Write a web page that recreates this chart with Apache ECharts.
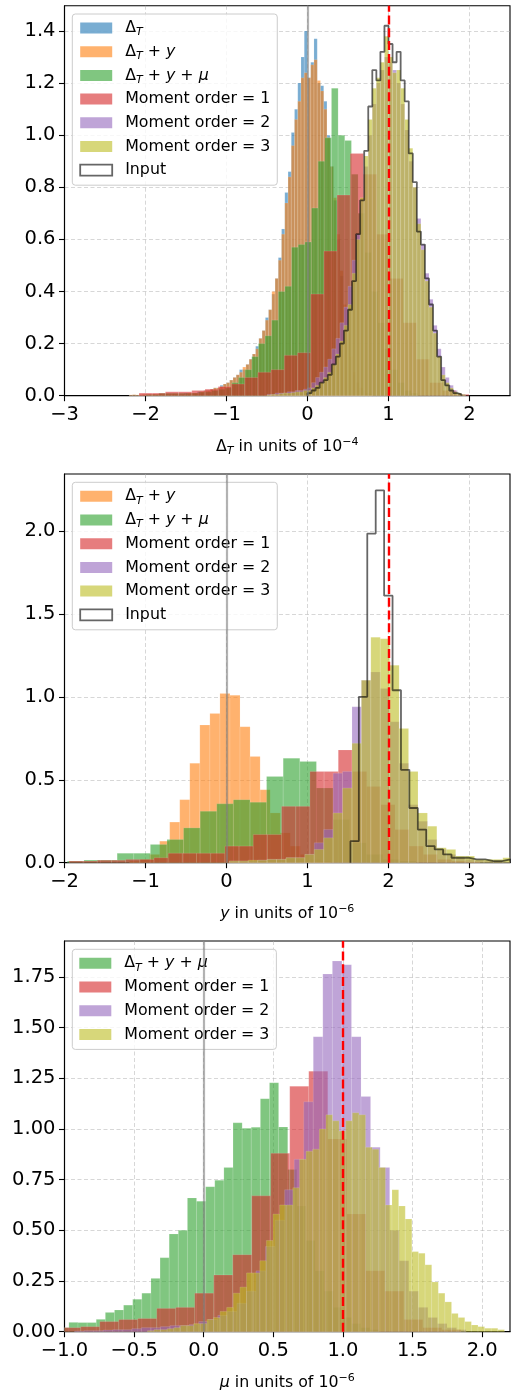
<!DOCTYPE html>
<html>
<head>
<meta charset="utf-8">
<script src="https://cdn.jsdelivr.net/npm/echarts@6/dist/echarts.min.js"></script>
<style>
  html, body { margin: 0; padding: 0; background: #fff; }
  #chart { width: 511px; height: 1393px; }
</style>
</head>
<body>
<div id="chart"></div>
<script>
// ---- panel 1: Delta_T (units of 1e-4) ----
var dtBlueStart = -2.2, dtBlueWidth = 0.04
var dtBlue = [0.002, 0.003, 0.002, 0.003, 0.004, 0.003, 0.004, 0.005, 0.004, 0.005, 0.004, 0.006, 0.005, 0.006, 0.005,
  0.005, 0.005, 0.01, 0.005, 0.01, 0.01, 0.015, 0.01, 0.02, 0.02, 0.025, 0.03, 0.03, 0.04, 0.045, 0.05, 0.06, 0.07, 0.08, 0.10,
  0.10, 0.12, 0.14, 0.16, 0.19, 0.22, 0.25, 0.30, 0.33, 0.39, 0.45, 0.53, 0.64, 0.78, 0.86, 1.01, 1.10, 1.20, 1.30, 1.40,
  1.22, 1.28, 1.37, 1.20, 1.19, 1.13, 1.00, 0.88, 0.75, 0.60, 0.46, 0.33, 0.22, 0.14, 0.08, 0.05, 0.03, 0.02, 0.01, 0.005]
var dtOrangeStart = -2.2, dtOrangeWidth = 0.04
var dtOrange = [0.003, 0.004, 0.003, 0.004, 0.005, 0.004, 0.005, 0.006, 0.005, 0.006, 0.005, 0.006, 0.006, 0.007, 0.006,
  0.005, 0.005, 0.005, 0.01, 0.01, 0.01, 0.01, 0.015, 0.02, 0.02, 0.025, 0.03, 0.03, 0.035, 0.045, 0.05, 0.06, 0.07, 0.08, 0.09,
  0.11, 0.12, 0.14, 0.16, 0.18, 0.22, 0.25, 0.29, 0.33, 0.40, 0.45, 0.52, 0.62, 0.74, 0.84, 0.96, 1.06, 1.13, 1.22, 1.24,
  1.22, 1.27, 1.29, 1.21, 1.17, 1.10, 0.99, 0.88, 0.76, 0.62, 0.48, 0.35, 0.24, 0.15, 0.09, 0.05, 0.03, 0.02, 0.01, 0.005]
var dtGreenStart = -2.0, dtGreenWidth = 0.082
var dtGreen = [0.005, 0.005, 0.01, 0.01, 0.01, 0.01, 0.01, 0.01, 0.015, 0.015, 0.02, 0.025, 0.03, 0.05, 0.07, 0.10, 0.15,
  0.20, 0.23, 0.29, 0.40, 0.42, 0.57, 0.58, 0.59, 0.72, 0.90, 0.99, 1.18, 1.0, 0.98, 0.85, 0.7, 0.55, 0.4, 0.28, 0.18, 0.1,
  0.05, 0.02, 0.01]
var dtRedStart = -2.08, dtRedWidth = 0.163
var dtRed = [0.01, 0.01, 0.015, 0.015, 0.02, 0.025, 0.035, 0.045, 0.07, 0.09, 0.10, 0.155, 0.165, 0.39, 0.555, 0.77,
  0.93, 0.85, 0.62, 0.45, 0.28, 0.14, 0.05, 0.02, 0.005]
var dtPurpleStart = -0.5, dtPurpleWidth = 0.05
var dtPurple = [0.005, 0.005, 0.01, 0.01, 0.01, 0.015, 0.015, 0.02, 0.02, 0.025, 0.03, 0.05, 0.07, 0.09, 0.11, 0.14, 0.18,
  0.22, 0.28, 0.34, 0.42, 0.52, 0.62, 0.75, 0.88, 1.0, 1.12, 1.2, 1.25, 1.3, 1.28, 1.25, 1.2, 1.12, 1.02, 0.9, 0.8, 0.68,
  0.58, 0.47, 0.37, 0.27, 0.18, 0.11, 0.07, 0.04, 0.02, 0.01, 0.005]
var dtYellowStart = -0.5, dtYellowWidth = 0.05
var dtYellow = [0.003, 0.005, 0.005, 0.008, 0.01, 0.01, 0.012, 0.015, 0.015, 0.02, 0.02, 0.03, 0.04, 0.05, 0.07, 0.09,
  0.12, 0.16, 0.21, 0.27, 0.35, 0.47, 0.6, 0.76, 0.92, 1.06, 1.18, 1.22, 1.28, 1.38, 1.3, 1.24, 1.25, 1.18, 1.06, 0.95, 0.8,
  0.66, 0.56, 0.44, 0.34, 0.24, 0.15, 0.08, 0.05, 0.03, 0.015, 0.01, 0.005]
var dtInputStart = 0.0, dtInputWidth = 0.05
var dtInput = [0.01, 0.02, 0.03, 0.05, 0.06, 0.08, 0.12, 0.15, 0.20, 0.25, 0.33, 0.44, 0.62, 0.75, 0.94, 1.11, 1.25, 1.21,
  1.32, 1.42, 1.35, 1.28, 1.32, 1.21, 1.13, 0.93, 0.82, 0.63, 0.58, 0.45, 0.35, 0.25, 0.15, 0.06, 0.04, 0.02, 0.01, 0.005]

// ---- panel 2: y (units of 1e-6) ----
var yOrangeStart = -1.197, yOrangeWidth = 0.124
var yOrange = [0.01, 0.02, 0.05, 0.13, 0.245, 0.38, 0.60, 0.83, 0.90, 1.02, 1.01, 0.82, 0.64, 0.44, 0.30, 0.18, 0.10,
  0.05, 0.02, 0.01]
var yGreenStart = -1.965, yGreenWidth = 0.205
var yGreen = [0.01, 0.016, 0.016, 0.057, 0.057, 0.11, 0.14, 0.21, 0.31, 0.355, 0.38, 0.365, 0.52, 0.63, 0.61, 0.45, 0.26,
  0.12, 0.05, 0.02, 0.01]
var yRedStart = -1.945, yRedWidth = 0.175
var yRed = [0.01, 0.01, 0.015, 0.015, 0.02, 0.02, 0.03, 0.057, 0.057, 0.057, 0.057, 0.10, 0.10, 0.17, 0.17, 0.34, 0.34,
  0.55, 0.55, 0.68, 0.55, 0.46, 0.35, 0.2, 0.1, 0.05, 0.02, 0.01, 0.005]
var yPurpleStart = 0.036, yPurpleWidth = 0.1164
var yPurple = [0.01, 0.01, 0.01, 0.015, 0.02, 0.02, 0.03, 0.03, 0.05, 0.12, 0.2, 0.54, 0.55, 0.94, 1.1, 1.15, 1.05, 0.85,
  0.6, 0.35, 0.25, 0.14, 0.08, 0.05, 0.03, 0.02, 0.015, 0.01, 0.01, 0.005]
var yYellowStart = 0.036, yYellowWidth = 0.1164
var yYellow = [0.01, 0.01, 0.015, 0.015, 0.02, 0.02, 0.03, 0.03, 0.05, 0.08, 0.15, 0.30, 0.45, 0.72, 1.10, 1.36, 1.35,
  1.19, 0.81, 0.55, 0.30, 0.22, 0.09, 0.08, 0.04, 0.04, 0.02, 0.02, 0.02, 0.03]
var yInputStart = 1.53, yInputWidth = 0.104
var yInput = [0.13, 1.0, 1.985, 2.245, 1.61, 1.04, 0.56, 0.33, 0.20, 0.10, 0.08, 0.05, 0.03, 0.03, 0.02, 0.02, 0.01,
  0.01, 0.02]

// ---- panel 3: mu (units of 1e-6) ----
var muGreenStart = -1.034, muGreenWidth = 0.0655
var muGreen = [0.02, 0.046, 0.045, 0.045, 0.061, 0.095, 0.107, 0.131, 0.16, 0.19, 0.263, 0.365, 0.482, 0.50, 0.66,
  0.644, 0.715, 0.747, 0.81, 1.03, 1.003, 1.008, 1.149, 1.228, 1.01, 0.80, 0.62, 0.45, 0.30, 0.2, 0.12, 0.07, 0.04, 0.02, 0.01]
var muRedStart = -1.02, muRedWidth = 0.1365
var muRed = [0.02, 0.025, 0.05, 0.06, 0.065, 0.115, 0.12, 0.19, 0.28, 0.38, 0.67, 0.88, 1.21, 1.285, 0.95, 0.58, 0.3,
  0.2, 0.06, 0.02, 0.01]
var muPurpleStart = -0.928, muPurpleWidth = 0.0686
var muPurple = [0.003, 0.005, 0.005, 0.008, 0.01, 0.01, 0.015, 0.02, 0.02, 0.025, 0.03, 0.03, 0.035, 0.05, 0.06, 0.08,
  0.1, 0.14, 0.2, 0.3, 0.42, 0.55, 0.7, 0.85, 1.134, 1.455, 1.764, 1.828, 1.81, 1.455, 1.16, 0.91, 0.81, 0.5, 0.35, 0.2,
  0.12, 0.07, 0.04, 0.02, 0.01]
var muYellowStart = -0.405, muYellowWidth = 0.0475
var muYellow = [0.005, 0.01, 0.01, 0.015, 0.02, 0.03, 0.03, 0.04, 0.04, 0.06, 0.07, 0.10, 0.12, 0.19, 0.22, 0.29, 0.29,
  0.35, 0.45, 0.58, 0.625, 0.625, 0.71, 0.85, 0.89, 0.90, 1.00, 1.07, 1.04, 0.99, 1.04, 1.08, 1.07, 0.91, 0.90, 0.81,
  0.625, 0.70, 0.62, 0.556, 0.395, 0.387, 0.33, 0.245, 0.19, 0.147, 0.09, 0.07, 0.05, 0.033, 0.025, 0.017, 0.017, 0.01]

// reference lines (zero and true value) and tick values
var trueValues = [1.0, 2.0, 1.0]
var dtTicks = [-3, -2, -1, 0, 1, 2]
var yTicks = [-2, -1, 0, 1, 2, 3]
var muTicks = [-1, -0.5, 0, 0.5, 1, 1.5, 2]
var dtDensityTicks = [0, 0.2, 0.4, 0.6, 0.8, 1.0, 1.2, 1.4]
var yDensityTicks = [0, 0.5, 1.0, 1.5, 2.0]
var muDensityTicks = [0, 0.25, 0.5, 0.75, 1.0, 1.25, 1.5, 1.75]

var FONT = 'DejaVu Sans'
var fills = {
  'ΔT': 'rgba(31,119,180,0.6)',
  'ΔT+y': 'rgba(255,127,14,0.6)',
  'ΔT+y+μ': 'rgba(44,160,44,0.6)',
  'Moment order = 1': 'rgba(214,39,40,0.6)',
  'Moment order = 2': 'rgba(148,103,189,0.6)',
  'Moment order = 3': 'rgba(188,189,34,0.6)'
}
var labels = {
  'ΔT': '{n|Δ}{sub|T}',
  'ΔT+y': '{n|Δ}{sub|T}{n| + }{it|y}',
  'ΔT+y+μ': '{n|Δ}{sub|T}{n| + }{it|y}{n| + }{it|μ}',
  'Input': '{n|Input}'
}
var rich = {
  n: {fontFamily: FONT, fontSize: 15.8, lineHeight: 20, color: '#000'},
  it: {fontFamily: FONT, fontSize: 15.8, lineHeight: 20, fontStyle: 'italic', color: '#000'},
  sub: {fontFamily: FONT, fontSize: 11, lineHeight: 12, fontStyle: 'italic', verticalAlign: 'bottom', color: '#000'},
  sup: {fontFamily: FONT, fontSize: 11, lineHeight: 12, verticalAlign: 'top', color: '#000'}
}

function bins (start, width, heights) {
  return heights.map(function (h, i) { return [start + i * width, start + (i + 1) * width, h] })
}

function stepPoints (start, width, heights) {
  var pts = [[start, 0]]
  heights.forEach(function (h, i) { pts.push([start + i * width, h]) })
  pts.push([start + heights.length * width, 0])
  return pts
}

function renderBar (params, api) {
  var lo = api.coord([api.value(0), api.value(2)])
  var hi = api.coord([api.value(1), 0])
  var cs = params.coordSys
  var shape = echarts.graphic.clipRectByRect(
    {x: lo[0], y: lo[1], width: hi[0] - lo[0], height: hi[1] - lo[1]},
    {x: cs.x, y: cs.y, width: cs.width, height: cs.height})
  return shape && {
    type: 'rect',
    shape: shape,
    style: {fill: api.visual('color'), stroke: 'rgba(255,255,255,0.22)', lineWidth: 0.6}
  }
}

function hist (name, idx, start, width, heights) {
  return {
    type: 'custom',
    name: name,
    xAxisIndex: idx,
    yAxisIndex: idx,
    renderItem: renderBar,
    itemStyle: {color: fills[name]},
    encode: {x: [0, 1], y: 2},
    data: bins(start, width, heights),
    animation: false
  }
}

function outline (idx, start, width, heights) {
  return {
    type: 'line',
    name: 'Input',
    xAxisIndex: idx,
    yAxisIndex: idx,
    step: 'end',
    symbol: 'none',
    itemStyle: {color: 'rgba(0,0,0,0.6)'},
    lineStyle: {color: 'rgba(0,0,0,0.6)', width: 1.8},
    data: stepPoints(start, width, heights),
    z: 3,
    animation: false
  }
}

function refLines (idx) {
  return {
    type: 'line',
    xAxisIndex: idx,
    yAxisIndex: idx,
    data: [],
    symbol: 'none',
    animation: false,
    markLine: {
      silent: true,
      symbol: ['none', 'none'],
      label: {show: false},
      animation: false,
      data: [
        {xAxis: 0, lineStyle: {color: 'rgba(128,128,128,0.6)', width: 2.2, type: 'solid'}},
        {xAxis: trueValues[idx], lineStyle: {color: '#ff0000', width: 2.4, type: [9, 3.8]}}
      ]
    }
  }
}

function legendFor (idx, names) {
  var tops = [14, 482.3, 949.3]
  return {
    orient: 'vertical',
    left: 72.3,
    top: tops[idx],
    selectedMode: false,
    padding: [4, 7, 5, 7],
    itemGap: 3.7,
    itemWidth: 32,
    itemHeight: 11,
    backgroundColor: 'rgba(255,255,255,0.8)',
    borderColor: '#cccccc',
    borderWidth: 1,
    borderRadius: 3,
    textStyle: {fontFamily: FONT, fontSize: 15.8, lineHeight: 20, color: '#000', padding: [0, 0, 0, 8], rich: rich},
    formatter: function (name) { return labels[name] || '{n|' + name + '}' },
    data: names.map(function (nm) {
      if (nm === 'Input') {
        return {name: nm, icon: 'rect', itemStyle: {color: '#fff', borderColor: 'rgba(0,0,0,0.6)', borderWidth: 1.8}}
      }
      return {name: nm, icon: 'rect', itemStyle: {color: fills[nm], borderWidth: 0}}
    })
  }
}

var tickStyle = {length: 5.5, lineStyle: {color: '#000', width: 1.1}}
var gridStyle = {show: true, lineStyle: {color: 'rgba(176,176,176,0.5)', width: 1, type: [4, 2.5]}}

function minus (s) { return s.replace('-', '−') }

function xAxisFor (idx, min, max, interval, ticks, fmt, name) {
  return {
    gridIndex: idx, type: 'value', min: min, max: max, interval: interval,
    axisLine: {onZero: false, lineStyle: {color: '#000', width: 1.1}},
    axisTick: Object.assign({customValues: ticks}, tickStyle),
    axisLabel: {customValues: ticks, formatter: fmt, fontFamily: FONT, fontSize: 19.5, color: '#000', margin: 9},
    splitLine: gridStyle,
    name: name, nameLocation: 'middle', nameGap: 41,
    nameTextStyle: {rich: rich}
  }
}

function yAxisFor (idx, max, interval, ticks, digits) {
  return {
    gridIndex: idx, type: 'value', min: 0, max: max, interval: interval,
    axisLine: {show: true, onZero: false, lineStyle: {color: '#000', width: 1.1}},
    axisTick: Object.assign({show: true, customValues: ticks}, tickStyle),
    axisLabel: {customValues: ticks, formatter: function (v) { return v.toFixed(digits) }, fontFamily: FONT, fontSize: 19.5, color: '#000', margin: 9},
    splitLine: gridStyle
  }
}

var gridBox = {left: 64.5, width: 445.5, show: true, borderColor: '#000', borderWidth: 1.1, containLabel: false}

var option = {
  backgroundColor: '#fff',
  animation: false,
  grid: [
    Object.assign({top: 5.7, height: 390}, gridBox),
    Object.assign({top: 474, height: 388.7}, gridBox),
    Object.assign({top: 941, height: 390.7}, gridBox)
  ],
  xAxis: [
    xAxisFor(0, -3, 2.5, 1, dtTicks, function (v) { return minus(String(v)) }, '{n|Δ}{sub|T}{n| in units of 10}{sup|−4}'),
    xAxisFor(1, -2, 3.5, 1, yTicks, function (v) { return minus(String(v)) }, '{it|y}{n| in units of 10}{sup|−6}'),
    xAxisFor(2, -1, 2.2, 0.5, muTicks, function (v) { return minus(v.toFixed(1)) }, '{it|μ}{n| in units of 10}{sup|−6}')
  ],
  yAxis: [
    yAxisFor(0, 1.497, 0.2, dtDensityTicks, 1),
    yAxisFor(1, 2.344, 0.5, yDensityTicks, 1),
    yAxisFor(2, 1.927, 0.25, muDensityTicks, 2)
  ],
  legend: [
    legendFor(0, ['ΔT', 'ΔT+y', 'ΔT+y+μ', 'Moment order = 1', 'Moment order = 2', 'Moment order = 3', 'Input']),
    legendFor(1, ['ΔT+y', 'ΔT+y+μ', 'Moment order = 1', 'Moment order = 2', 'Moment order = 3', 'Input']),
    legendFor(2, ['ΔT+y+μ', 'Moment order = 1', 'Moment order = 2', 'Moment order = 3'])
  ],
  series: [
    hist('ΔT', 0, dtBlueStart, dtBlueWidth, dtBlue),
    hist('ΔT+y', 0, dtOrangeStart, dtOrangeWidth, dtOrange),
    hist('ΔT+y+μ', 0, dtGreenStart, dtGreenWidth, dtGreen),
    hist('Moment order = 1', 0, dtRedStart, dtRedWidth, dtRed),
    hist('Moment order = 2', 0, dtPurpleStart, dtPurpleWidth, dtPurple),
    hist('Moment order = 3', 0, dtYellowStart, dtYellowWidth, dtYellow),
    outline(0, dtInputStart, dtInputWidth, dtInput),
    refLines(0),

    hist('ΔT+y', 1, yOrangeStart, yOrangeWidth, yOrange),
    hist('ΔT+y+μ', 1, yGreenStart, yGreenWidth, yGreen),
    hist('Moment order = 1', 1, yRedStart, yRedWidth, yRed),
    hist('Moment order = 2', 1, yPurpleStart, yPurpleWidth, yPurple),
    hist('Moment order = 3', 1, yYellowStart, yYellowWidth, yYellow),
    outline(1, yInputStart, yInputWidth, yInput),
    refLines(1),

    hist('ΔT+y+μ', 2, muGreenStart, muGreenWidth, muGreen),
    hist('Moment order = 1', 2, muRedStart, muRedWidth, muRed),
    hist('Moment order = 2', 2, muPurpleStart, muPurpleWidth, muPurple),
    hist('Moment order = 3', 2, muYellowStart, muYellowWidth, muYellow),
    refLines(2)
  ]
}

var chart = echarts.init(document.getElementById('chart'), null, {renderer: 'canvas'})
chart.setOption(option)
</script>
</body>
</html>
